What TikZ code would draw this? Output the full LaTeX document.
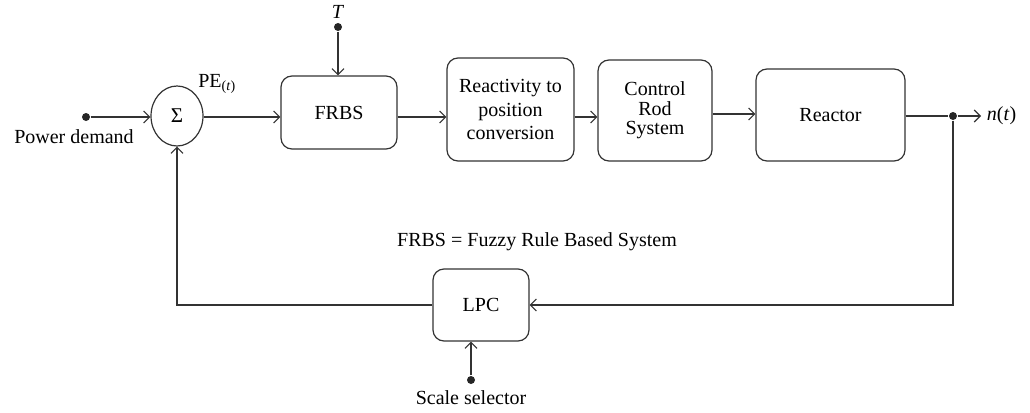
\documentclass[tikz,border=0pt]{standalone}
\usepackage{fontspec}
\setmainfont{Liberation Serif}
\usetikzlibrary{arrows.meta,shapes.geometric}
\begin{document}
\begin{tikzpicture}[x=1pt,y=-1pt,
  line width=1.2pt, draw=black!80,
  >={Straight Barb[length=6pt,width=12pt,line width=1.1pt]},
  blk/.style={draw, rounded corners=11pt, align=center, inner sep=0pt},
  lbl/.style={font=\fontsize{20}{23}\selectfont},
  dot/.style={circle, fill=black!85, inner sep=0pt, minimum size=8pt}]
\useasboundingbox (0,0) rectangle (1030,412);

% summing junction
\node[draw, ellipse, minimum width=52pt, minimum height=60pt, inner sep=0pt, font=\fontsize{21}{23}\selectfont] (sum) at (177,116) {Σ};

% forward path blocks
\node[blk, lbl, minimum width=116pt, minimum height=73pt] (frbs) at (339,112.5) {FRBS};
\node[blk, minimum width=127pt, minimum height=103pt, font=\fontsize{20}{23.5}\selectfont] (rpc) at (510.5,109.5) {Reactivity to\\position\\conversion};
\node[blk, minimum width=114pt, minimum height=101pt, font=\fontsize{20}{19.5}\selectfont] (crs) at (655,110.5) {Control\\Rod\\System};
\node[blk, lbl, minimum width=149pt, minimum height=92pt] (reac) at (830.5,115) {Reactor};

% feedback block
\node[blk, lbl, minimum width=96pt, minimum height=72pt] (lpc) at (481,305) {LPC};

% input / output terminals
\node[dot] (pd) at (86,117) {};
\node[lbl] (pdt) at (74,137) {Power demand};
\node[dot] (tdot) at (338,27) {};
\node[lbl, anchor=south] (tl) at (338,22) {\textit{T}};
\node[dot] (jn) at (953,116) {};
\coordinate (out) at (981,116);
\node[lbl, anchor=west] (nt) at (983,116) {\textit{n}(\textit{t})};
\node[dot] (ss) at (471,380) {};
\node[lbl] (sst) at (471,398) {Scale selector};

% labels
\node[lbl] (pe) at (217,84) {PE\textsubscript{(\textit{t})}};
\node[lbl] (legend) at (537,242) {FRBS = Fuzzy Rule Based System};

% forward connectors
\draw[->] (pd) -- (sum.west |- pd);
\draw[->] (sum.east |- 0,117) -- (frbs.west |- 0,117);
\draw[->] (frbs.east |- 0,117) -- (rpc.west |- 0,117);
\draw[->] (rpc.east |- 0,117) -- (crs.west |- 0,117);
\draw[->] (crs.east |- 0,114) -- (reac.west |- 0,114);
\draw (reac.east |- jn) -- (jn);
\draw[->] (jn) -- (out);
\draw[->] (tdot) -- (frbs.north -| tdot);

% feedback loop
\draw[->] (jn) |- (lpc.east);
\draw[->] (lpc.west) -| (sum.south);
\draw[->] (ss) -- (lpc.south -| ss);
\end{tikzpicture}
\end{document}
